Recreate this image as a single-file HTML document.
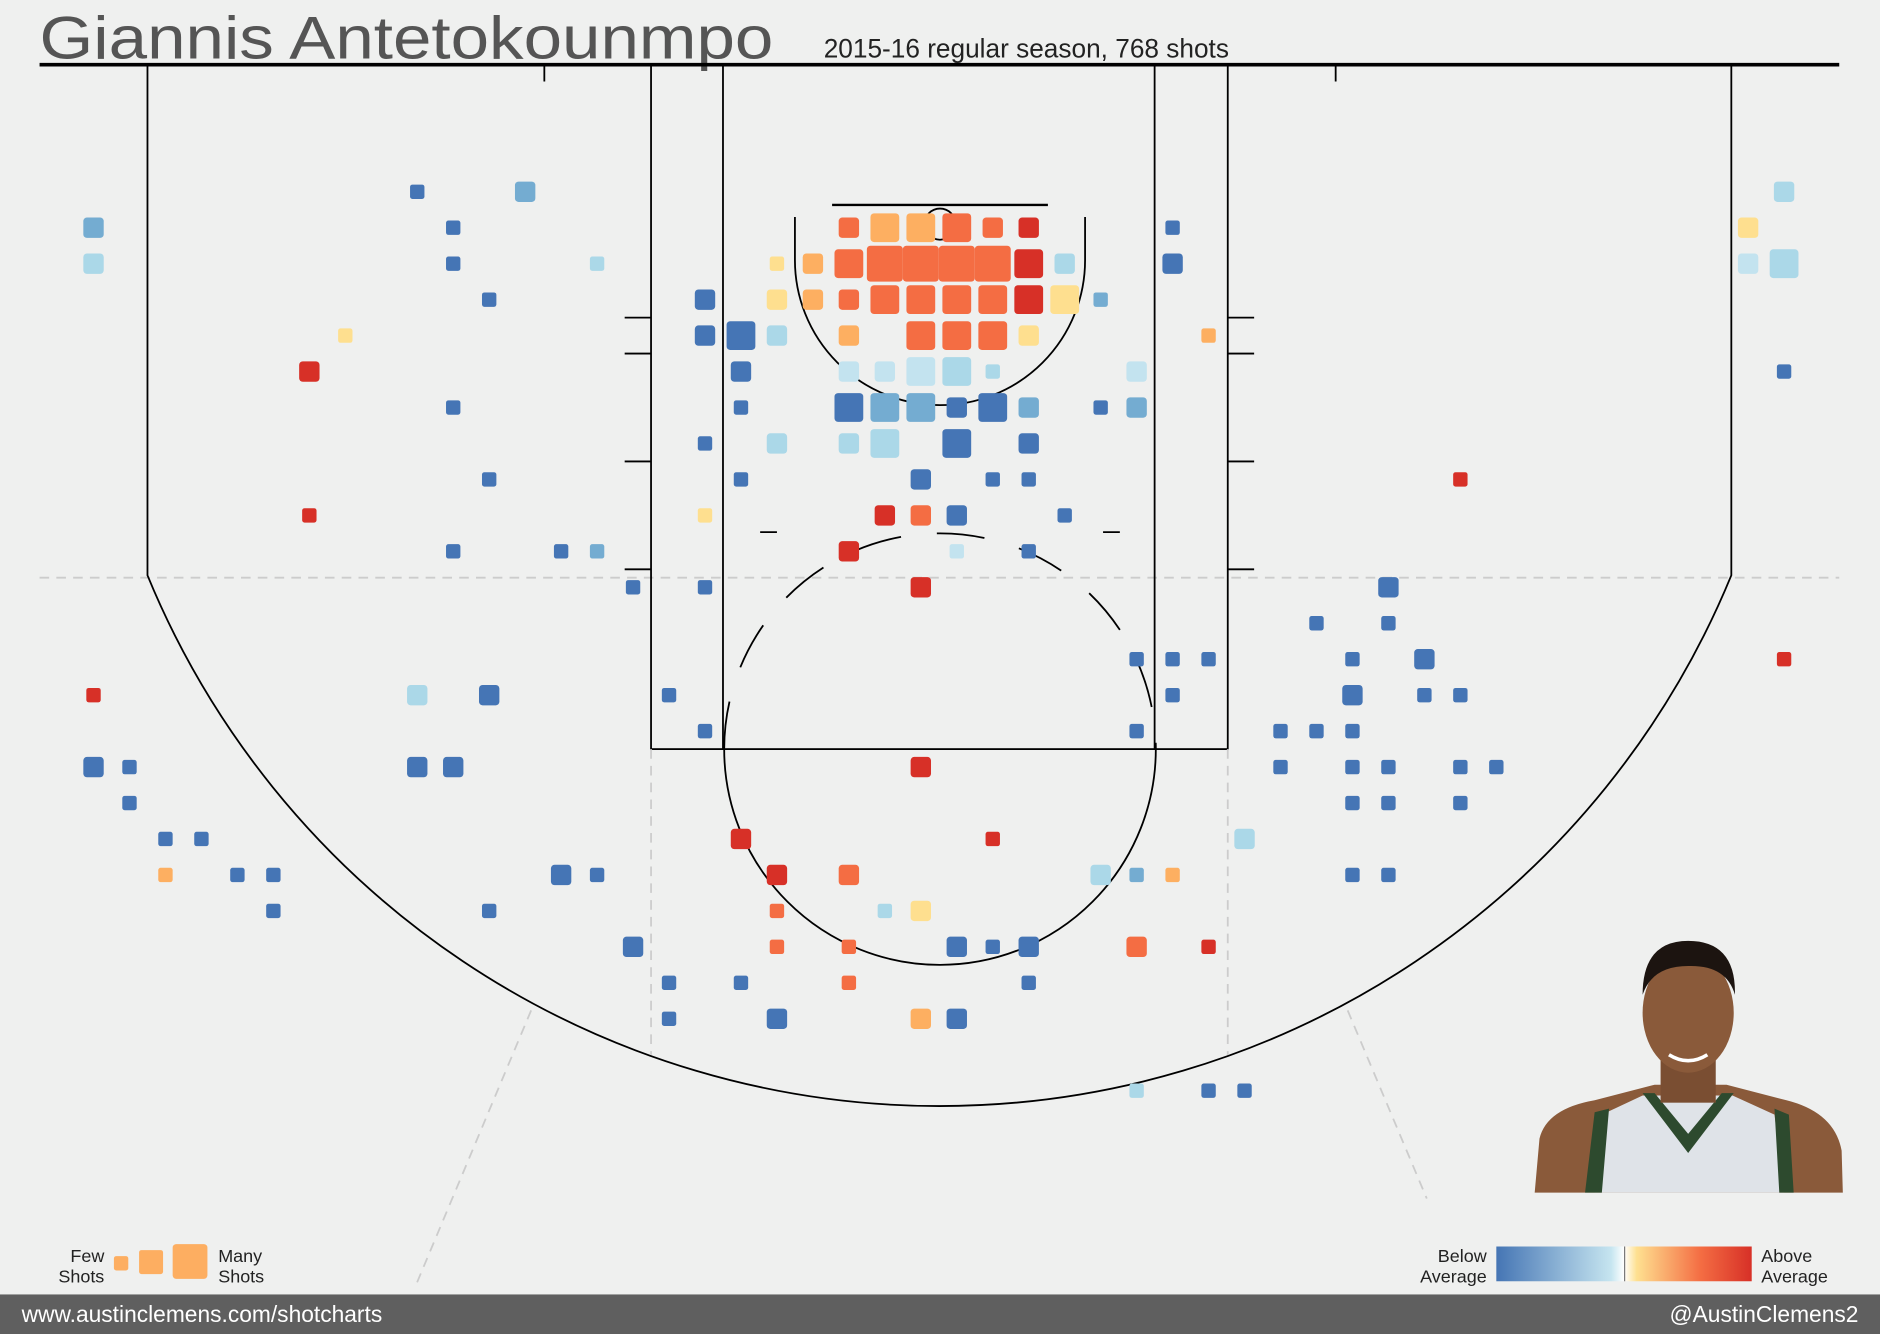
<!DOCTYPE html>
<html><head><meta charset="utf-8"><style>
html,body{margin:0;padding:0;background:#eff0ef;}
svg{display:block;}
text{font-family:"Liberation Sans",sans-serif;}
</style></head><body>
<svg id="chart" width="1880" height="1334" viewBox="0 0 1568 1113" preserveAspectRatio="none" xmlns="http://www.w3.org/2000/svg">
<rect x="0" y="0" width="1568" height="1113" fill="#eff0ef"/>
<text x="33" y="49" font-size="50" fill="#555" textLength="612" lengthAdjust="spacingAndGlyphs">Giannis Antetokounmpo</text>
<text x="687" y="48" font-size="22" fill="#222" textLength="338" lengthAdjust="spacingAndGlyphs">2015-16 regular season, 768 shots</text>
<g id="court" fill="none" stroke="#000" stroke-width="1.5">
<line x1="33" y1="54" x2="1534" y2="54" stroke-width="3"/>
<line x1="33" y1="482" x2="1534" y2="482" stroke="#ccc" stroke-dasharray="8,6"/>
<path d="M123 54 V480 A714 714 0 0 0 1444 480 V54"/>
<rect x="543" y="54" width="481" height="571"/>
<line x1="603" y1="54" x2="603" y2="625"/>
<line x1="963" y1="54" x2="963" y2="625"/>
<path d="M604 625 A180 180 0 0 0 964 625"/>
<path d="M604 625 A180 180 0 0 1 964 625" stroke-dasharray="40,30"/>
<path d="M663 181 V217 A121 121 0 0 0 905 217 V181"/>
<line x1="694" y1="171" x2="874" y2="171" stroke-width="2"/>
<circle cx="784" cy="187" r="13"/>
<path d="M521 265H543M521 295H543M521 385H543M521 475H543M1024 265H1046M1024 295H1046M1024 385H1046M1024 475H1046M454 54V68M1114 54V68M634 444H648M920 444H934"/>
<path d="M543 625V880M1024 625V880M443 843L347 1072M1124 843L1190 1000" stroke="#ccc" stroke-dasharray="8,6"/>
</g>
<g id="shots"></g>
<g id="photo">
<path d="M1280 995 L1284 950 Q1290 925 1330 918 L1380 905 L1440 905 L1490 918 Q1530 928 1536 960 L1537 995 Z" fill="#8a5a3a"/>
<path d="M1330 995 L1336 930 L1370 914 L1445 914 L1480 930 L1488 995 Z" fill="#dfe3e8"/>
<path d="M1322 995 L1330 928 L1342 925 L1336 995 Z M1480 925 L1492 930 L1496 995 L1484 995 Z" fill="#2d4a2e"/>
<path d="M1370 912 L1408 962 L1446 912 L1436 912 L1408 946 L1380 912 Z" fill="#2d4a2e"/>
<rect x="1385" y="880" width="46" height="40" fill="#7a4e32"/>
<ellipse cx="1408" cy="845" rx="38" ry="50" fill="#8a5a3a"/>
<path d="M1370 830 Q1370 785 1408 785 Q1448 785 1447 830 Q1440 805 1408 806 Q1378 806 1370 830 Z" fill="#1c1410"/>
<path d="M1392 880 Q1408 890 1424 880" stroke="#fff" stroke-width="3" fill="none"/>
</g>
<g id="size-legend">
<text x="87" y="1053" font-size="15" text-anchor="end" fill="#222">Few</text>
<text x="87" y="1070" font-size="15" text-anchor="end" fill="#222">Shots</text>
<rect x="95" y="1048" width="12" height="12" rx="2" fill="#fdae61"/>
<rect x="116" y="1043" width="20" height="20" rx="2" fill="#fdae61"/>
<rect x="144" y="1038" width="29" height="29" rx="3" fill="#fdae61"/>
<text x="182" y="1053" font-size="15" fill="#222">Many</text>
<text x="182" y="1070" font-size="15" fill="#222">Shots</text>
</g>
<defs><linearGradient id="grad" x1="0" x2="1"><stop offset="0" stop-color="#4575b4"/><stop offset="0.45" stop-color="#c6e5f0"/><stop offset="0.5" stop-color="#fff"/><stop offset="0.55" stop-color="#fee090"/><stop offset="0.8" stop-color="#f46d43"/><stop offset="1" stop-color="#d73027"/></linearGradient></defs>
<g id="color-legend">
<text x="1240" y="1053" font-size="15" text-anchor="end" fill="#222">Below</text>
<text x="1240" y="1070" font-size="15" text-anchor="end" fill="#222">Average</text>
<rect x="1248" y="1040" width="213" height="29" fill="url(#grad)"/>
<line x1="1355" y1="1040" x2="1355" y2="1069" stroke="#777" stroke-width="1"/>
<text x="1469" y="1053" font-size="15" fill="#222">Above</text>
<text x="1469" y="1070" font-size="15" fill="#222">Average</text>
</g>
<rect x="0" y="1080" width="1568" height="33" fill="#5f5f5f"/>
<text x="18" y="1103" font-size="19" fill="#fff">www.austinclemens.com/shotcharts</text>
<text x="1550" y="1103" font-size="19" fill="#fff" text-anchor="end">@AustinClemens2</text>
</svg>
<script>
// grid columns/rows of shot locations, size class (1-4), efficiency category
const shotData = [
[9,0,1,'D'],[12,0,2,'M'],[47,0,2,'L'],
[0,1,2,'M'],[10,1,1,'D'],[21,1,2,'R'],[22,1,3,'O'],[23,1,3,'O'],[24,1,3,'R'],[25,1,2,'R'],[26,1,2,'X'],[30,1,1,'D'],[46,1,2,'Y'],
[0,2,2,'L'],[10,2,1,'D'],[14,2,1,'L'],[19,2,1,'Y'],[20,2,2,'O'],[21,2,3,'R'],[22,2,4,'R'],[23,2,4,'R'],[24,2,4,'R'],[25,2,4,'R'],[26,2,3,'X'],[27,2,2,'L'],[30,2,2,'D'],[46,2,2,'P'],[47,2,3,'L'],
[11,3,1,'D'],[17,3,2,'D'],[19,3,2,'Y'],[20,3,2,'O'],[21,3,2,'R'],[22,3,3,'R'],[23,3,3,'R'],[24,3,3,'R'],[25,3,3,'R'],[26,3,3,'X'],[27,3,3,'Y'],[28,3,1,'M'],
[7,4,1,'Y'],[17,4,2,'D'],[18,4,3,'D'],[19,4,2,'L'],[21,4,2,'O'],[23,4,3,'R'],[24,4,3,'R'],[25,4,3,'R'],[26,4,2,'Y'],[31,4,1,'O'],
[6,5,2,'X'],[18,5,2,'D'],[21,5,2,'P'],[22,5,2,'P'],[23,5,3,'P'],[24,5,3,'L'],[25,5,1,'L'],[29,5,2,'P'],[47,5,1,'D'],
[10,6,1,'D'],[18,6,1,'D'],[21,6,3,'D'],[22,6,3,'M'],[23,6,3,'M'],[24,6,2,'D'],[25,6,3,'D'],[26,6,2,'M'],[28,6,1,'D'],[29,6,2,'M'],
[17,7,1,'D'],[19,7,2,'L'],[21,7,2,'L'],[22,7,3,'L'],[24,7,3,'D'],[26,7,2,'D'],
[11,8,1,'D'],[18,8,1,'D'],[23,8,2,'D'],[25,8,1,'D'],[26,8,1,'D'],[38,8,1,'X'],
[6,9,1,'X'],[17,9,1,'Y'],[22,9,2,'X'],[23,9,2,'R'],[24,9,2,'D'],[27,9,1,'D'],
[10,10,1,'D'],[13,10,1,'D'],[14,10,1,'M'],[21,10,2,'X'],[24,10,1,'P'],[26,10,1,'D'],
[15,11,1,'D'],[17,11,1,'D'],[23,11,2,'X'],[36,11,2,'D'],
[34,12,1,'D'],[36,12,1,'D'],
[29,13,1,'D'],[30,13,1,'D'],[31,13,1,'D'],[35,13,1,'D'],[37,13,2,'D'],[47,13,1,'X'],
[0,14,1,'X'],[9,14,2,'L'],[11,14,2,'D'],[16,14,1,'D'],[30,14,1,'D'],[35,14,2,'D'],[37,14,1,'D'],[38,14,1,'D'],
[17,15,1,'D'],[29,15,1,'D'],[33,15,1,'D'],[34,15,1,'D'],[35,15,1,'D'],
[0,16,2,'D'],[1,16,1,'D'],[9,16,2,'D'],[10,16,2,'D'],[23,16,2,'X'],[33,16,1,'D'],[35,16,1,'D'],[36,16,1,'D'],[38,16,1,'D'],[39,16,1,'D'],
[1,17,1,'D'],[35,17,1,'D'],[36,17,1,'D'],[38,17,1,'D'],
[2,18,1,'D'],[3,18,1,'D'],[18,18,2,'X'],[25,18,1,'X'],[32,18,2,'L'],
[2,19,1,'O'],[4,19,1,'D'],[5,19,1,'D'],[13,19,2,'D'],[14,19,1,'D'],[19,19,2,'X'],[21,19,2,'R'],[28,19,2,'L'],[29,19,1,'M'],[30,19,1,'O'],[35,19,1,'D'],[36,19,1,'D'],
[5,20,1,'D'],[11,20,1,'D'],[19,20,1,'R'],[22,20,1,'L'],[23,20,2,'Y'],
[15,21,2,'D'],[19,21,1,'R'],[21,21,1,'R'],[24,21,2,'D'],[25,21,1,'D'],[26,21,2,'D'],[29,21,2,'R'],[31,21,1,'X'],
[16,22,1,'D'],[18,22,1,'D'],[21,22,1,'R'],[26,22,1,'D'],
[16,23,1,'D'],[19,23,2,'D'],[23,23,2,'O'],[24,23,2,'D'],
[29,25,1,'L'],[31,25,1,'D'],[32,25,1,'D']
];
const sizeLevels = [0, 12, 17, 24, 30];
const colorCats = {D:'#4575b5',M:'#74acd1',L:'#abd8e8',P:'#c3e3ef',Y:'#fedf8f',O:'#fdaf61',R:'#f46d43',X:'#d73027'};
function xScale(c){ return 78 + 30 * c; }
function yScale(r){ return 160 + 30 * r; }
const g = document.getElementById('shots');
const NS = 'http://www.w3.org/2000/svg';
shotData.forEach(function(d){
  const s = sizeLevels[d[2]];
  const r = document.createElementNS(NS, 'rect');
  r.setAttribute('x', xScale(d[0]) - s / 2);
  r.setAttribute('y', yScale(d[1]) - s / 2);
  r.setAttribute('width', s);
  r.setAttribute('height', s);
  r.setAttribute('rx', s > 14 ? 3 : 2);
  r.setAttribute('fill', colorCats[d[3]]);
  
  
  g.appendChild(r);
});
</script>
</body></html>
